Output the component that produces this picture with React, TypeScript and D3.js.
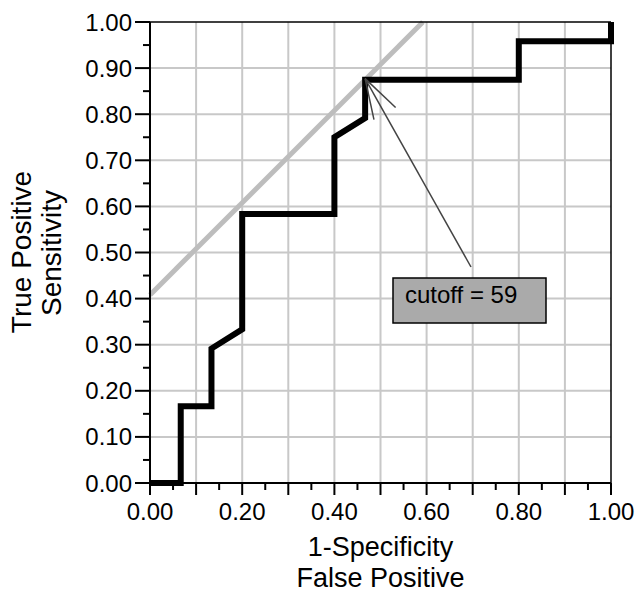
import React from "react";
import * as d3 from "d3";

const rocX = [0, 1 / 15, 1 / 15, 2 / 15, 2 / 15, 3 / 15, 3 / 15, 6 / 15, 6 / 15, 7 / 15, 7 / 15, 12 / 15, 12 / 15, 1, 1];
const rocY = [0, 0, 4 / 24, 4 / 24, 7 / 24, 8 / 24, 14 / 24, 14 / 24, 18 / 24, 19 / 24, 21 / 24, 21 / 24, 23 / 24, 23 / 24, 1];
const tangentX = [0, 0.592];
const tangentY = [0.408, 1.0];
const cutoffPoint = [7 / 15, 21 / 24];
const cutoffLabel = "cutoff = 59";
const xTickLabels = [0, 0.2, 0.4, 0.6, 0.8, 1.0];
const yTickLabels = [0, 0.1, 0.2, 0.3, 0.4, 0.5, 0.6, 0.7, 0.8, 0.9, 1.0];
const gridValues = [0.1, 0.2, 0.3, 0.4, 0.5, 0.6, 0.7, 0.8, 0.9];
const minorValues = [0.05, 0.15, 0.25, 0.35, 0.45, 0.55, 0.65, 0.75, 0.85, 0.95];

const W = 636, H = 594;
const L = 150, R = 611, T = 22, B = 483;

export default function App() {
  const x = d3.scaleLinear().domain([0, 1]).range([L, R]);
  const y = d3.scaleLinear().domain([0, 1]).range([B, T]);
  const line = d3.line<number>().x((_, i) => x(rocX[i])).y((_, i) => y(rocY[i]));
  const font = "Liberation Sans, Arial, sans-serif";
  const tip = [x(cutoffPoint[0]), y(cutoffPoint[1]) - 1];
  const tail = [471, 267];
  const ang = Math.atan2(tail[1] - tip[1], tail[0] - tip[0]);
  const headLen = 42;
  const h1 = [tip[0] + headLen * Math.cos(ang - 0.3), tip[1] + headLen * Math.sin(ang - 0.3)];
  const h2 = [tip[0] + headLen * Math.cos(ang + 0.3), tip[1] + headLen * Math.sin(ang + 0.3)];
  return (
    <svg width={W} height={H} style={{ position: "absolute", left: 0, top: 0 }}>
      <rect width={W} height={H} fill="white" />
      {gridValues.map((v) => (
        <g key={"g" + v}>
          <line x1={x(v)} x2={x(v)} y1={T} y2={B} stroke="#c8c8c8" strokeWidth={2} />
          <line x1={L} x2={R} y1={y(v)} y2={y(v)} stroke="#c8c8c8" strokeWidth={2} />
        </g>
      ))}
      <line x1={x(tangentX[0])} y1={y(tangentY[0])} x2={x(tangentX[1])} y2={y(tangentY[1])} stroke="#bdbdbd" strokeWidth={5} />
      <path d={line(rocX) || ""} fill="none" stroke="black" strokeWidth={6} strokeLinejoin="miter" />
      {/* frame */}
      <line x1={L} x2={R} y1={T} y2={T} stroke="black" strokeWidth={1.5} />
      <line x1={R} x2={R} y1={T} y2={B} stroke="black" strokeWidth={1.5} />
      <line x1={L} x2={L} y1={T} y2={B} stroke="black" strokeWidth={2} />
      <line x1={L} x2={R} y1={B} y2={B} stroke="black" strokeWidth={2} />
      {/* y ticks */}
      {yTickLabels.map((v) => (
        <g key={"yt" + v}>
          <line x1={L - 15} x2={L} y1={y(v)} y2={y(v)} stroke="black" strokeWidth={2} />
          <text x={L - 18} y={y(v) + 8.5} textAnchor="end" fontSize={24} fontFamily={font}>{v.toFixed(2)}</text>
        </g>
      ))}
      {minorValues.map((v) => (
        <line key={"ym" + v} x1={L - 7} x2={L} y1={y(v)} y2={y(v)} stroke="black" strokeWidth={2} />
      ))}
      {/* x ticks */}
      {[0, ...gridValues, 1].map((v) => (
        <line key={"xt" + v} x1={x(v)} x2={x(v)} y1={B} y2={B + 12} stroke="black" strokeWidth={2} />
      ))}
      {minorValues.map((v) => (
        <line key={"xm" + v} x1={x(v)} x2={x(v)} y1={B} y2={B + 7} stroke="black" strokeWidth={2} />
      ))}
      {xTickLabels.map((v) => (
        <text key={"xl" + v} x={x(v)} y={520} textAnchor="middle" fontSize={24} fontFamily={font}>{v.toFixed(2)}</text>
      ))}
      {/* axis titles */}
      <text x={(L + R) / 2} y={556} textAnchor="middle" fontSize={27} fontFamily={font}>1-Specificity</text>
      <text x={(L + R) / 2} y={587} textAnchor="middle" fontSize={27} fontFamily={font}>False Positive</text>
      <text transform={`translate(31, 252) rotate(-90)`} textAnchor="middle" fontSize={28} fontFamily={font}>True Positive</text>
      <text transform={`translate(61, 253) rotate(-90)`} textAnchor="middle" fontSize={28} fontFamily={font}>Sensitivity</text>
      {/* arrow */}
      <line x1={tip[0]} y1={tip[1]} x2={tail[0]} y2={tail[1]} stroke="#444" strokeWidth={1.5} />
      <line x1={tip[0]} y1={tip[1]} x2={h1[0]} y2={h1[1]} stroke="#444" strokeWidth={1.5} />
      <line x1={tip[0]} y1={tip[1]} x2={h2[0]} y2={h2[1]} stroke="#444" strokeWidth={1.5} />
      {/* label box */}
      <rect x={393} y={278} width={153} height={45} fill="#aaaaaa" stroke="black" strokeWidth={1.5} />
      <text x={405} y={303} fontSize={24} fontFamily={font}>{cutoffLabel}</text>
    </svg>
  );
}
